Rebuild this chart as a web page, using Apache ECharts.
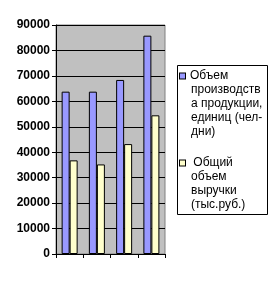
<!DOCTYPE html>
<html>
<head>
<meta charset="utf-8">
<script src="https://cdn.jsdelivr.net/npm/echarts@6/dist/echarts.min.js"></script>
<style>html,body{margin:0;padding:0;background:#fff;}#c{width:277px;height:282px;}</style>
</head>
<body>
<div id="c"></div>
<script>
const categories = ['1', '2', '3', '4'];
const seriesNames = ['Объем производства продукции, единиц (чел-дни)', 'Общий объем выручки (тыс.руб.)'];
const legendLines1 = ['Объем', 'производств', 'а продукции,', 'единиц (чел-', 'дни)'];
const legendLines2 = [' Общий', 'объем', 'выручки', '(тыс.руб.)'];
const production = [63800, 63800, 68400, 85800];
const revenue = [36800, 35200, 43200, 54500];
const yTicks = [0, 10000, 20000, 30000, 40000, 50000, 60000, 70000, 80000, 90000];

const FONT = '"Liberation Sans", Arial, sans-serif';
const chart = echarts.init(document.getElementById('c'), null, {renderer: 'canvas'});

function legendText(lines, marker) {
  return lines.map((l, i) => (i === 0 ? '{' + marker + '|}{sp|}' : '{ind|}') + '{t|' + l + '}').join('\n');
}

chart.setOption({
  animation: false,
  backgroundColor: '#fff',
  grid: {left: 56, right: 112, top: 25, bottom: 28, show: true, backgroundColor: '#C0C0C0', borderColor: '#808080', borderWidth: 1},
  xAxis: {
    type: 'category', data: categories,
    axisLine: {lineStyle: {color: '#000', width: 1}},
    axisTick: {show: true, length: 4, lineStyle: {color: '#000'}},
    axisLabel: {show: false}
  },
  yAxis: {
    type: 'value', min: yTicks[0], max: yTicks[yTicks.length - 1], interval: 10000,
    axisLine: {show: true, lineStyle: {color: '#000', width: 1}},
    axisTick: {show: true, length: 4, lineStyle: {color: '#000'}},
    splitLine: {show: true, lineStyle: {color: '#000', width: 1}},
    axisLabel: {color: '#000', fontFamily: FONT, fontSize: 12, fontWeight: 'bold', margin: 6,
      formatter: function (v) { return String(v); }}
  },
  legend: {
    orient: 'vertical', left: 174, top: 69, padding: 0, itemGap: 17,
    itemWidth: 0, itemHeight: 0, selectedMode: false,
    data: seriesNames,
    formatter: function (name) {
      return name === seriesNames[0] ? legendText(legendLines1, 'm1') : legendText(legendLines2, 'm2');
    },
    textStyle: {
      fontFamily: FONT, fontSize: 12, lineHeight: 14, color: '#000',
      rich: {
        t: {fontFamily: FONT, fontSize: 12, lineHeight: 14, color: '#000'},
        m1: {width: 5, height: 5, backgroundColor: '#9999FF', borderColor: '#000', borderWidth: 1},
        m2: {width: 5, height: 5, backgroundColor: '#FFFFCC', borderColor: '#000', borderWidth: 1},
        sp: {width: 5},
        ind: {width: 11}
      }
    }
  },
  graphic: [{
    type: 'rect', left: 177, top: 65, z: -1,
    shape: {width: 90, height: 149},
    style: {fill: '#fff', stroke: '#000', lineWidth: 1}
  }],
  series: [
    {name: seriesNames[0], type: 'bar', data: production, barWidth: 8, barGap: '0%',
     itemStyle: {color: '#9999FF', borderColor: '#000', borderWidth: 1}},
    {name: seriesNames[1], type: 'bar', data: revenue, barWidth: 8, barGap: '0%',
     itemStyle: {color: '#FFFFCC', borderColor: '#000', borderWidth: 1}}
  ]
});
</script>
</body>
</html>
